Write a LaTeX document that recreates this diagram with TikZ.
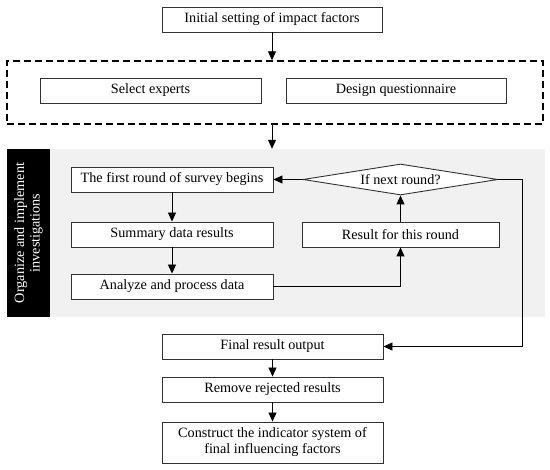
\documentclass[tikz,border=0pt]{standalone}
\usepackage{fontspec}
\setmainfont{Liberation Serif}
\usetikzlibrary{shapes.geometric,arrows.meta,positioning}
\definecolor{bg}{HTML}{F1F1F1}
\definecolor{ln}{HTML}{333333}
\tikzset{
  box/.style={draw=ln,line width=0.9pt,fill=white,inner sep=2pt,minimum height=25pt,
    font=\fontsize{14.2}{16}\selectfont,align=center},
  arr/.style={draw=black,line width=0.9pt,-{Triangle[length=9pt,width=8pt]}},
  plain/.style={draw=black,line width=0.9pt}
}
\begin{document}
\begin{tikzpicture}[x=1pt,y=-1pt]
\useasboundingbox (0,0) rectangle (550,470);
% background regions
\node[fill=bg,minimum width=495pt,minimum height=168pt,inner sep=0pt] (gray) at (297.5,233) {};
\node[fill=black,minimum width=43pt,minimum height=168pt,inner sep=0pt] (bar) at (28.5,233) {};
\node[rotate=90,text=white,align=center,font=\fontsize{14.2}{15.5}\selectfont] (barlbl) at (28.5,233) {Organize and implement\\investigations};
% top
\node[box,minimum width=220pt] (init) at (272,19.5) {Initial setting of impact factors};
\node[draw=black,line width=1.4pt,dash pattern=on 7pt off 4pt,minimum width=536pt,minimum height=63pt,inner sep=0pt] (grp) at (275,92.5) {};
\node[box,minimum width=221pt] (sel) at (150.5,90.5) {Select experts};
\node[box,minimum width=220pt] (des) at (396,90.5) {Design questionnaire};
% middle
\node[box,minimum width=202pt] (first) at (172,179.5) {The first round of survey begins};
\node[box,minimum width=202pt] (summ) at (172,234.5) {Summary data results};
\node[box,minimum width=202pt] (anal) at (172,286.5) {Analyze and process data};
\node[box,shape=diamond,aspect=6.3,inner sep=0pt,minimum width=195pt,minimum height=31pt] (diam) at (400.5,179.5) {If next round?};
\node[box,minimum width=197pt] (res) at (400.5,234.5) {Result for this round};
% bottom
\node[box,minimum width=221pt] (final) at (272.5,346.5) {Final result output};
\node[box,minimum width=221pt] (rem) at (272.5,389.5) {Remove rejected results};
\node[box,minimum width=221pt,minimum height=41pt] (cons) at (272.5,442.5) {Construct the indicator system of\\final influencing factors};
\coordinate (rt) at (522,179.5);
% connectors
\draw[arr] (init.south) -- (init.south |- grp.north);
\draw[arr] (init.south |- grp.south) -- (init.south |- gray.north);
\draw[arr] (diam.west) -- (first.east);
\draw[arr] (first) -- (summ);
\draw[arr] (summ) -- (anal);
\draw[arr] (anal.east) -| (res.south);
\draw[arr] (res.north) -- (diam.south);
\draw[plain] (diam.east) -- (rt);
\draw[arr] (rt) |- (final.east);
\draw[arr] (final) -- (rem);
\draw[arr] (rem) -- (cons);
\end{tikzpicture}
\end{document}
